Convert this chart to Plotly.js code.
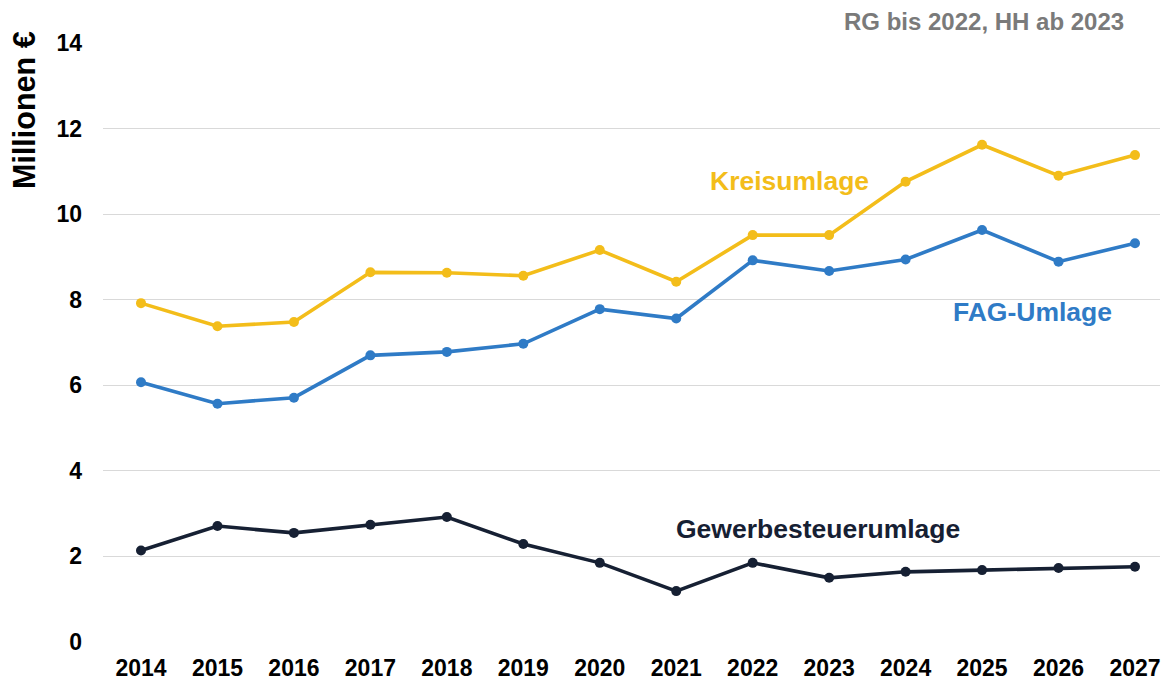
<!DOCTYPE html>
<html>
<head>
<meta charset="utf-8">
<script src="https://cdn.plot.ly/plotly-3.0.1.min.js"></script>
<style>html,body{margin:0;padding:0;background:#fff;}#chart{width:1168px;height:681px;}</style>
</head>
<body>
<div id="chart"></div>
<script>
const years = ['2014','2015','2016','2017','2018','2019','2020','2021','2022','2023','2024','2025','2026','2027'];
const kreisumlage = [7.92, 7.38, 7.48, 8.64, 8.63, 8.56, 9.16, 8.42, 9.51, 9.51, 10.76, 11.62, 10.90, 11.38];
const fagUmlage = [6.07, 5.57, 5.71, 6.70, 6.78, 6.97, 7.78, 7.56, 8.92, 8.67, 8.94, 9.63, 8.89, 9.32];
const gewerbesteuerumlage = [2.14, 2.71, 2.55, 2.74, 2.92, 2.29, 1.85, 1.19, 1.85, 1.50, 1.64, 1.68, 1.73, 1.76];

const font = 'Liberation Sans, Arial, sans-serif';
const L = 103, T = 43, W = 1057, H = 599;
function px(x) { return (x - L) / W; }
function py(y) { return (T + H - y) / H; }
function series(y, color, name) {
  return {x: years, y: y, name: name, type: 'scatter', mode: 'lines+markers',
    line: {color: color, width: 3.6}, marker: {color: color, size: 10}, hoverinfo: 'x+y'};
}
const data = [
  series(gewerbesteuerumlage, '#162033', 'Gewerbesteuerumlage'),
  series(fagUmlage, '#2f7bc6', 'FAG-Umlage'),
  series(kreisumlage, '#f3bd1a', 'Kreisumlage')
];
function ann(text, x, y, size, color, extra) {
  return Object.assign({text: text, xref: 'paper', yref: 'paper', x: px(x), y: py(y),
    xanchor: 'center', yanchor: 'middle', showarrow: false,
    font: {family: font, size: size, color: color, weight: 'bold'}}, extra || {});
}
const layout = {
  width: 1168, height: 681,
  margin: {l: L, r: 1168 - L - W, t: T, b: 681 - T - H},
  paper_bgcolor: '#fff', plot_bgcolor: '#fff',
  showlegend: false,
  xaxis: {type: 'category', range: [-0.497, 13.327], showgrid: false, zeroline: false, showline: false,
    ticks: '', tickfont: {family: font, size: 23, color: '#000', weight: 'bold'}, ticklabelstandoff: 10},
  yaxis: {range: [0, 14], dtick: 2, showgrid: true, gridcolor: '#d9d9d9', gridwidth: 1,
    zeroline: false, showline: false, ticks: '',
    tickfont: {family: font, size: 23, color: '#000', weight: 'bold'}, ticklabelstandoff: 20},
  annotations: [
    ann('Millionen €', 24, 110, 30.5, '#000', {textangle: -90}),
    ann('Kreisumlage', 789, 181, 26.5, '#f3bd1a'),
    ann('FAG-Umlage', 1032, 312, 26.5, '#2f7bc6'),
    ann('Gewerbesteuerumlage', 818, 529, 26.5, '#162033'),
    ann('RG bis 2022, HH ab 2023', 984, 22, 24, '#7a7a7a')
  ]
};
Plotly.newPlot('chart', data, layout, {displayModeBar: false, staticPlot: true});
</script>
</body>
</html>
